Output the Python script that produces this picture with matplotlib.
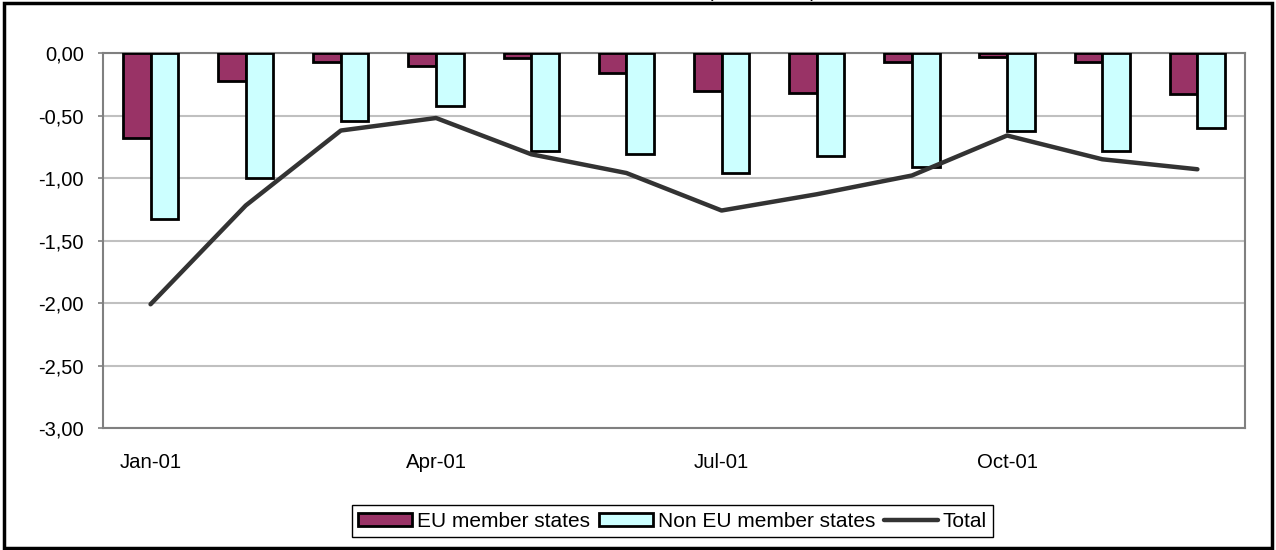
import numpy as np
import matplotlib.pyplot as plt
from matplotlib.patches import Rectangle
from matplotlib.ticker import FuncFormatter

plt.rcParams['font.family'] = ['Liberation Sans', 'DejaVu Sans']

## data
months = ["Jan-01", "Feb-01", "Mar-01", "Apr-01", "May-01", "Jun-01",
          "Jul-01", "Aug-01", "Sep-01", "Oct-01", "Nov-01", "Dec-01"]
eu = [-0.68, -0.22, -0.07, -0.10, -0.04, -0.16, -0.30, -0.32, -0.07, -0.03, -0.07, -0.33]
non_eu = [-1.33, -1.00, -0.54, -0.42, -0.78, -0.81, -0.96, -0.82, -0.91, -0.62, -0.78, -0.60]
total = [-2.01, -1.22, -0.62, -0.52, -0.81, -0.96, -1.26, -1.13, -0.98, -0.66, -0.85, -0.93]

x = np.arange(len(months))
w = 0.29

fig = plt.figure(figsize=(12.76, 5.5), dpi=100)
ax = fig.add_axes([0.0807, 0.2218, 0.895, 0.6818])

# bars and line
b1 = ax.bar(x - w / 2, eu, w, color="#993366", edgecolor="black", linewidth=2,
            label="EU member states", zorder=3)
b2 = ax.bar(x + w / 2, non_eu, w, color="#CCFFFF", edgecolor="black", linewidth=2,
            label="Non EU member states", zorder=3)
ln, = ax.plot(x, total, color="#333333", linewidth=3.2, label="Total", zorder=4,
              solid_capstyle="round")

# axes styling
ax.set_xlim(-0.5, 11.5)
ax.set_ylim(-3.0, 0.0)
ax.set_yticks(np.arange(-3.0, 0.01, 0.5))
ax.yaxis.set_major_formatter(FuncFormatter(lambda v, p: f"{v:.2f}".replace(".", ",")))
ax.set_xticks(x[::3])
ax.set_xticklabels(months[::3])
ax.tick_params(axis="x", length=0, pad=18, labelsize=14.7)
ax.tick_params(axis="y", length=3.6, width=1.2, color="#808080", labelsize=14.5, pad=10)
ax.grid(axis="y", color="#c0c0c0", linewidth=1.5, zorder=0)
for s in ax.spines.values():
    s.set_color("#808080")
    s.set_linewidth(1.5)

# legend
fig.legend([b1, b2, ln], ["EU member states", "Non EU member states", "Total"],
           loc="center", bbox_to_anchor=(0.527, 0.0527), ncol=3, fontsize=15,
           frameon=True, fancybox=False, edgecolor="black", framealpha=1,
           handlelength=2.6, handleheight=0.6, handletextpad=0.25,
           columnspacing=0.4, borderpad=0.3, borderaxespad=0)

# clipped title at the top of the figure
fig.text(762 / 1276, 1 + 3 / 550, "(EUR billion)", ha="center", va="baseline",
         fontsize=14)

# outer border
fig.patches.append(Rectangle((0.003, 0.004), 0.994, 0.99, transform=fig.transFigure,
                             fill=False, edgecolor="black", linewidth=2.5))

fig.savefig("out.png", dpi=100)
